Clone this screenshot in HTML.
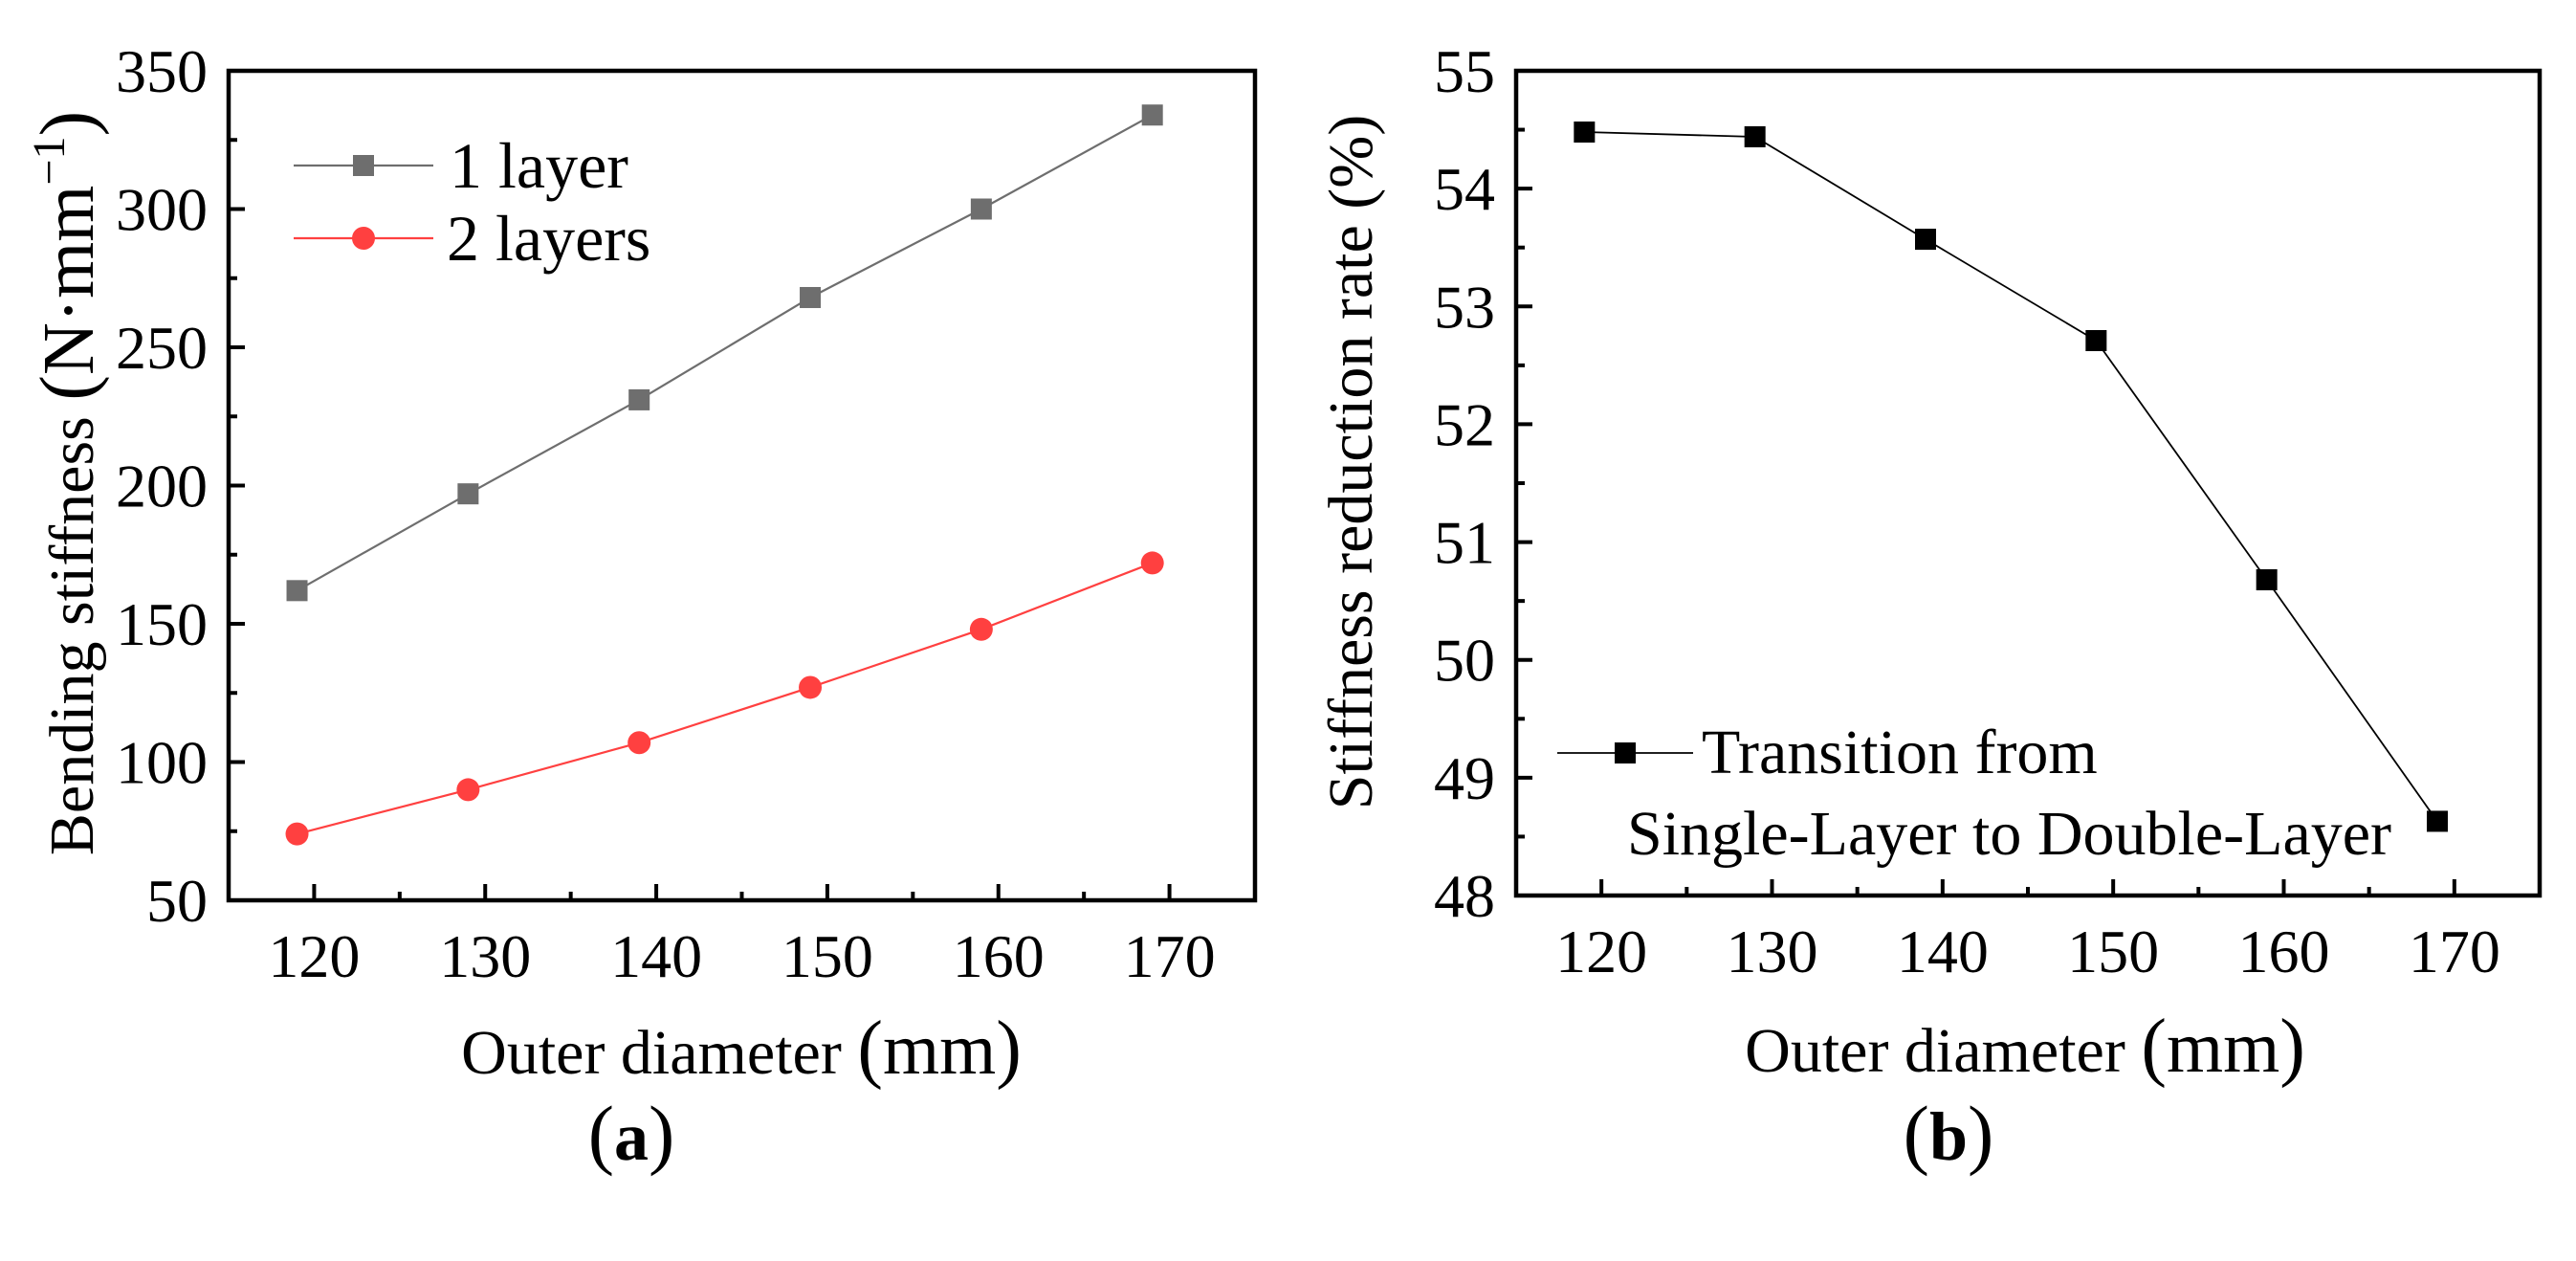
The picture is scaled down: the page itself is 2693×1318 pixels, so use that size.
<!DOCTYPE html>
<html><head><meta charset="utf-8">
<style>
html,body{margin:0;padding:0;background:#fff}
svg{display:block}
svg, svg text, svg tspan{font-family:"Liberation Serif","DejaVu Serif",serif !important;fill:#000}
</style></head>
<body>
<svg id="fig" width="2693" height="1318" viewBox="0 0 2693 1318" xmlns="http://www.w3.org/2000/svg" font-family="Liberation Serif, DejaVu Serif, serif">
<g id="pa"></g>
<g id="pb"></g>
</svg>
<script>
const xValues = [119, 129, 139, 149, 159, 169];
const oneLayer = [162, 197, 231, 268, 300, 334];
const twoLayers = [74, 90, 107, 127, 148, 172];
const reductionRate = [54.48, 54.44, 53.57, 52.71, 50.68, 48.63];
const xTicks = [120, 130, 140, 150, 160, 170];
const yTicksA = [50, 100, 150, 200, 250, 300, 350];
const yTicksB = [48, 49, 50, 51, 52, 53, 54, 55];

const NS = "http://www.w3.org/2000/svg";
const FONT = "Liberation Serif, DejaVu Serif, serif";
function el(parent, tag, attrs, txt) {
  const e = document.createElementNS(NS, tag);
  for (const k in attrs) e.setAttribute(k, attrs[k]);
  if (tag === "text") e.setAttribute("font-family", FONT);
  if (txt !== undefined) e.textContent = txt;
  parent.appendChild(e);
  return e;
}
function scale(d0, d1, r0, r1) { return v => r0 + (v - d0) / (d1 - d0) * (r1 - r0); }

function axes(g, box, xs, ys, yTicks, yMinorStep, yFmt) {
  const fr = el(g, "rect", {x: box.l, y: box.t, width: box.r - box.l, height: box.b - box.t, fill: "none", stroke: "#000", "stroke-width": 4.5});
  
  
  for (let v = 115; v <= 175; v += 5) {
    const x = xs(v), major = v % 10 === 0;
    const t = el(g, "line", {x1: x, x2: x, y1: box.b, y2: box.b - (major ? 17 : 9), stroke: "#000", "stroke-width": 4});
    
    
  }
  xTicks.forEach(v => {
    const t = el(g, "text", {x: xs(v), y: box.b + 80, "font-size": 64, "text-anchor": "middle"}, String(v));
    
    
  });
  const y0 = yTicks[0], y1 = yTicks[yTicks.length - 1];
  for (let v = y0; v <= y1 + 1e-9; v += yMinorStep) {
    const y = ys(v);
    const idx = Math.round((v - y0) / yMinorStep);
    const major = idx % 2 === 0;
    const t = el(g, "line", {x1: box.l, x2: box.l + (major ? 17 : 9), y1: y, y2: y, stroke: "#000", "stroke-width": 4});
    
    
  }
  yTicks.forEach(v => {
    const t = el(g, "text", {x: box.l - 22, y: ys(v) + 22, "font-size": 64, "text-anchor": "end"}, yFmt(v));
    
    
  });
}

// Panel A
(function(){
  const g = document.getElementById("pa");
  const box = {l: 239, r: 1312, t: 74, b: 941};
  const xs = scale(115, 175, box.l, box.r);
  const ys = scale(50, 350, box.b, box.t);
  axes(g, box, xs, ys, yTicksA, 25, v => String(v));
  const l1 = el(g, "polyline", {points: xValues.map((x, i) => xs(x) + "," + ys(oneLayer[i])).join(" "), fill: "none", stroke: "#6e6e6e", "stroke-width": 2.2});
  
  
  const l2 = el(g, "polyline", {points: xValues.map((x, i) => xs(x) + "," + ys(twoLayers[i])).join(" "), fill: "none", stroke: "#ff4040", "stroke-width": 2.2});
  
  
  xValues.forEach((x, i) => {
    const s = el(g, "rect", {x: xs(x) - 11, y: ys(oneLayer[i]) - 11, width: 22, height: 22, fill: "#6e6e6e"});
    
    
    const c = el(g, "circle", {cx: xs(x), cy: ys(twoLayers[i]), r: 12, fill: "#ff4040"});
    
    
  });
  const lg = el(g, "g", {});
  
  
  el(lg, "line", {x1: 307, x2: 453, y1: 173, y2: 173, stroke: "#6e6e6e", "stroke-width": 2.2});
  el(lg, "rect", {x: 369, y: 162, width: 22, height: 22, fill: "#6e6e6e"});
  const t1 = el(lg, "text", {x: 470, y: 196, "font-size": 68}, "1 layer");
  
  
  el(lg, "line", {x1: 307, x2: 453, y1: 249, y2: 249, stroke: "#ff4040", "stroke-width": 2.2});
  el(lg, "circle", {cx: 380, cy: 249, r: 12, fill: "#ff4040"});
  const t2 = el(lg, "text", {x: 467, y: 272, "font-size": 68}, "2 layers");
  
  
  const xt = el(g, "text", {x: 775, y: 1122, "font-size": 66, "text-anchor": "middle"});
  
  
  xt.innerHTML = 'Outer diameter <tspan font-size="80">(</tspan><tspan font-size="76">mm</tspan><tspan font-size="80">)</tspan>';
  const yt = el(g, "text", {x: 0, y: 0, "font-size": 66, "text-anchor": "middle", transform: "translate(97,505) rotate(-90)"});
  
  
  yt.innerHTML = 'Bending stiffness <tspan font-size="80">(</tspan><tspan font-size="76">N·mm</tspan><tspan font-size="48" dy="-30">−1</tspan><tspan font-size="80" dy="30">)</tspan>';
  const lab = el(g, "text", {x: 660, y: 1212, "font-size": 72, "text-anchor": "middle"});
  
  
  lab.innerHTML = '<tspan font-size="82">(</tspan><tspan font-weight="bold">a</tspan><tspan font-size="82">)</tspan>';
})();

// Panel B
(function(){
  const g = document.getElementById("pb");
  const box = {l: 1585, r: 2655, t: 74, b: 936};
  const xs = scale(115, 175, box.l, box.r);
  const ys = scale(48, 55, box.b, box.t);
  axes(g, box, xs, ys, yTicksB, 0.5, v => String(v));
  const l = el(g, "polyline", {points: xValues.map((x, i) => xs(x) + "," + ys(reductionRate[i])).join(" "), fill: "none", stroke: "#000", "stroke-width": 1.8});
  
  
  xValues.forEach((x, i) => {
    const s = el(g, "rect", {x: xs(x) - 11, y: ys(reductionRate[i]) - 11, width: 22, height: 22, fill: "#000"});
    
    
  });
  const lg = el(g, "g", {});
  
  
  el(lg, "line", {x1: 1628, x2: 1770, y1: 787, y2: 787, stroke: "#000", "stroke-width": 1.8});
  el(lg, "rect", {x: 1688, y: 776, width: 22, height: 22, fill: "#000"});
  const t1 = el(lg, "text", {x: 1779, y: 808, "font-size": 66}, "Transition from");
  
  
  const t2 = el(lg, "text", {x: 1701, y: 893, "font-size": 66}, "Single-Layer to Double-Layer");
  
  
  const xt = el(g, "text", {x: 2117, y: 1120, "font-size": 66, "text-anchor": "middle"});
  
  
  xt.innerHTML = 'Outer diameter <tspan font-size="80">(</tspan><tspan font-size="76">mm</tspan><tspan font-size="80">)</tspan>';
  const yt = el(g, "text", {x: 0, y: 0, "font-size": 66, "text-anchor": "middle", transform: "translate(1434,483) rotate(-90)"}, "Stiffness reduction rate (%)");
  
  
  const lab = el(g, "text", {x: 2037, y: 1212, "font-size": 72, "text-anchor": "middle"});
  
  
  lab.innerHTML = '<tspan font-size="82">(</tspan><tspan font-weight="bold">b</tspan><tspan font-size="82">)</tspan>';
})();
</script>
</body></html>
